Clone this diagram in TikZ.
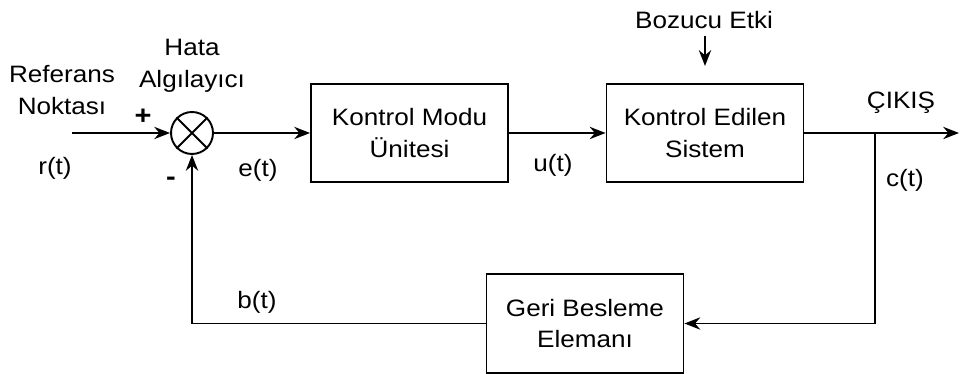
\documentclass[tikz,border=0pt]{standalone}
\usepackage{fontspec}
\setmainfont{Liberation Sans}[FakeStretch=1.1]
\usetikzlibrary{arrows.meta}
\begin{document}
\begin{tikzpicture}[x=0.02cm,y=-0.02cm,
  line width=1.1pt,
  >={Stealth[length=9pt,width=7pt]},
  txt/.style={font=\fontsize{13.5}{18}\selectfont, align=center, inner sep=0pt},
  block/.style={draw, txt, minimum width=3.94cm, minimum height=1.97cm},
  summer/.style={draw, circle, minimum size=0.84cm, inner sep=0pt}
]
\useasboundingbox (0,0) rectangle (960,374);

% blocks
\node[summer] (sum) at (192,133) {};
\draw (sum.north east) -- (sum.south west) (sum.north west) -- (sum.south east);
\node[block] (b1) at (409.5,133) {Kontrol Modu\\Ünitesi};
\node[block] (b2) at (705,133) {Kontrol Edilen\\Sistem};
\node[block] (b3) at (585,323.5) {Geri Besleme\\Elemanı};

% free ends of connectors
\coordinate (in) at (72,133);
\coordinate (out) at (959,133);
\coordinate (br) at (875,133);
\coordinate (dtop) at (705,36);
\coordinate (dbot) at (705,66);

% connectors
\draw[->] (in) -- (sum);
\draw[->] (sum) -- (b1);
\draw[->] (b1) -- (b2);
\draw[->] (b2) -- (out);
\draw[->] (br) |- (b3);
\draw[->] (b3) -| (sum);
\draw[->] (dtop) -- (dbot);

% labels
\node[txt] (ref) at (62,90) {Referans\\Noktası};
\node[txt] (hata) at (192,66) {Hata\\Algılayıcı};
\node[txt] (boz) at (704,20) {Bozucu Etki};
\node[txt] (cikis) at (901,103) {ÇIKIŞ};
\node[txt, font=\fontsize{15}{18}\selectfont\bfseries] (plus) at (143,117) {+};
\node[txt, font=\fontsize{15}{18}\selectfont\bfseries] (minus) at (171,181) {-};
\node[txt] (r) at (55,168) {r(t)};
\node[txt] (e) at (258,170) {e(t)};
\node[txt] (u) at (553,165) {u(t)};
\node[txt] (c) at (905,180) {c(t)};
\node[txt] (b) at (257,302) {b(t)};
\end{tikzpicture}
\end{document}
